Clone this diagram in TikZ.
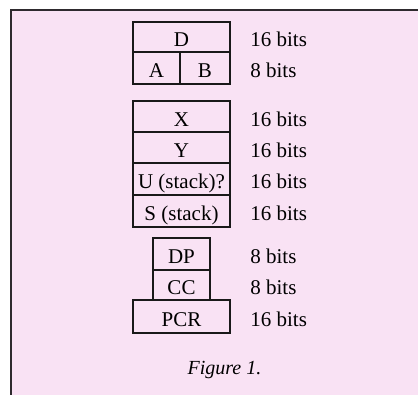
\documentclass[tikz,border=0pt]{standalone}
\usepackage{fontspec}
\setmainfont{Liberation Serif}
\definecolor{bgpink}{HTML}{F9E2F4}
\definecolor{framegray}{HTML}{2E2A2E}
\begin{document}
\begin{tikzpicture}[x=0.5pt,y=-0.5pt,
  reg/.style={draw=black!90, line width=0.7pt, rectangle, inner sep=0pt,
    text height=10pt, text depth=0pt, font=\fontsize{10.5}{12}\selectfont},
  lbl/.style={anchor=west, inner sep=0pt, text height=10pt, text depth=0pt,
    font=\fontsize{10.5}{12}\selectfont}]
\useasboundingbox (0,0) rectangle (418,395);
\fill[white] (0,0) rectangle (418,395);
\fill[bgpink] (11,10) rectangle (418,395);
\draw[framegray, line width=1pt] (11,395) -- (11,10) -- (418,10);
% registers
\node[reg, minimum width=48.5pt, minimum height=15pt] (D) at (181.5,37) {D};
\node[reg, minimum width=23.5pt, minimum height=16pt] (A) at (156.5,68) {A};
\node[reg, minimum width=25pt, minimum height=16pt] (B) at (205,68) {B};
\node[reg, minimum width=48.5pt, minimum height=15.5pt] (X) at (181.5,116.5) {X};
\node[reg, minimum width=48.5pt, minimum height=15.5pt] (Y) at (181.5,147.5) {Y};
\node[reg, minimum width=48.5pt, minimum height=16pt] (U) at (181.5,179) {U (stack)?};
\node[reg, minimum width=48.5pt, minimum height=16pt] (S) at (181.5,211) {S (stack)};
\node[reg, minimum width=28.5pt, minimum height=16pt] (DP) at (181.5,254) {DP};
\node[reg, minimum width=28.5pt, minimum height=15pt] (CC) at (181.5,285) {CC};
\node[reg, minimum width=48.5pt, minimum height=16.5pt] (PCR) at (181.5,316.5) {PCR};
% sizes
\node[lbl] (lD) at (250,37) {16 bits};
\node[lbl] (lAB) at (250,68) {8 bits};
\node[lbl] (lX) at (250,116.5) {16 bits};
\node[lbl] (lY) at (250,147.5) {16 bits};
\node[lbl] (lU) at (250,179) {16 bits};
\node[lbl] (lS) at (250,211) {16 bits};
\node[lbl] (lDP) at (250,254) {8 bits};
\node[lbl] (lCC) at (250,285) {8 bits};
\node[lbl] (lPCR) at (250,316.5) {16 bits};
% caption
\node[anchor=base, inner sep=0pt, font=\fontsize{10}{12}\selectfont\itshape] (cap) at (224.5,375) {Figure 1.};
\end{tikzpicture}
\end{document}
